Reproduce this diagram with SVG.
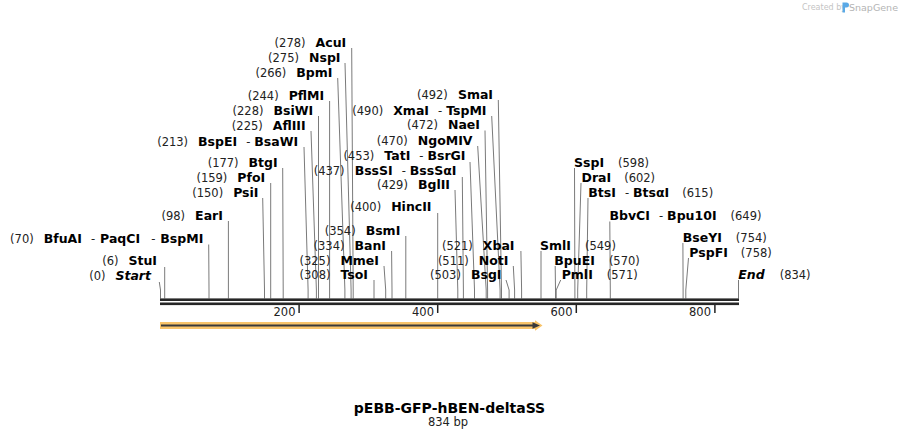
<svg xmlns="http://www.w3.org/2000/svg" width="899" height="438" viewBox="0 0 899 438">
<style>
text{font-family:"DejaVu Sans","Liberation Sans",sans-serif;}
.n{font-size:11.5px;fill:#222;}
.b{font-size:12.5px;font-weight:bold;fill:#000;}
.h{font-size:11.5px;fill:#222;}
.it{font-style:italic;}
.L{text-anchor:end;}
.cn path{fill:none;stroke:#7a7a7a;stroke-width:1;}
.tick{stroke:#222;stroke-width:1.5;}
.tl{font-size:11.5px;fill:#222;text-anchor:end;}
</style>
<rect width="899" height="438" fill="#fff"/>
<g id="watermark">
<text x="802" y="10" style="font-size:8px;fill:#c4c4c4">Created by</text>
<path d="M842.5 2.5h4a2.5 2.5 0 0 1 0 5h-1.5v5h-2.5z" fill="#5aa9e6"/>
<text x="849" y="11" style="font-size:9.5px;fill:#b4b4b4">SnapGene</text>
</g>
<g id="connectors" class="cn">
<path d="M351.7 48L353.2 290L353.2 298.5"/>
<path d="M345 63L351.1 290L351.1 298.5"/>
<path d="M337.7 78L344.9 290L344.9 298.5"/>
<path d="M329.6 101L329.6 298.5"/>
<path d="M318.5 116L318.5 298.5"/>
<path d="M311 131L316.4 290L316.4 298.5"/>
<path d="M304 147L308.1 290L308.1 298.5"/>
<path d="M282.7 168L283.2 290L283.2 298.5"/>
<path d="M270.7 183L270.7 298.5"/>
<path d="M262.7 198L264.5 290L264.5 298.5"/>
<path d="M228.4 221L228.4 298.5"/>
<path d="M208.7 244.5L209 290L209 298.5"/>
<path d="M164.7 267L164.7 298.5"/>
<path d="M159.3 282L160.5 290L160.5 298.5"/>
<path d="M374 280L374 298.5"/>
<path d="M384 266L385.7 290L385.7 298.5"/>
<path d="M391.6 251L392 290L392 298.5"/>
<path d="M405.8 236L405.8 298.5"/>
<path d="M437.7 213L437.7 298.5"/>
<path d="M455 190L457.8 290L457.8 298.5"/>
<path d="M462.3 177L463.4 290L463.4 298.5"/>
<path d="M470 162L474.5 290L474.5 298.5"/>
<path d="M477.7 146L486.2 290L486.2 298.5"/>
<path d="M485 130.5L487.6 290L487.6 298.5"/>
<path d="M491.7 116L500.1 290L500.1 298.5"/>
<path d="M498.3 100L501.5 290L501.5 298.5"/>
<path d="M506 280L509.1 290L509.1 298.5"/>
<path d="M513.3 266L514.6 290L514.6 298.5"/>
<path d="M520.9 251L521.6 290L521.6 298.5"/>
<path d="M541 251L541 298.5"/>
<path d="M555.2 266L555.5 290L555.5 298.5"/>
<path d="M560.7 280L556.2 290L556.2 298.5"/>
<path d="M574.5 168L574.9 290L574.9 298.5"/>
<path d="M581 183L577.7 290L577.7 298.5"/>
<path d="M588 198L586.7 290L586.7 298.5"/>
<path d="M609.8 221.5L610.3 290L610.3 298.5"/>
<path d="M682.9 243L683.1 290L683.1 298.5"/>
<path d="M688.5 258L685.8 290L685.8 298.5"/>
<path d="M738.5 280L738.5 298.5"/>
</g>
<g id="ruler">
<rect x="160" y="298.4" width="579" height="2.6" fill="#262626"/>
<rect x="160" y="302.5" width="579" height="2.6" fill="#262626"/>
<line class="tick" x1="299.1" y1="305" x2="299.1" y2="313"/>
<line class="tick" x1="437.7" y1="305" x2="437.7" y2="313"/>
<line class="tick" x1="576.3" y1="305" x2="576.3" y2="313"/>
<line class="tick" x1="714.9" y1="305" x2="714.9" y2="313"/>
<text class="tl" x="295.5" y="316">200</text>
<text class="tl" x="434" y="316">400</text>
<text class="tl" x="572.5" y="316">600</text>
<text class="tl" x="711" y="316">800</text>
</g>
<g id="feature">
<polygon points="160,322 535,322 535,320.3 542.5,325.5 535,330.7 535,329 160,329" fill="#f9c46a"/>
<line x1="161" y1="325.5" x2="534" y2="325.5" stroke="#3a3a3a" stroke-width="1.8"/>
<polygon points="532.5,322.3 540,325.5 532.5,328.7" fill="#3a3a3a"/>
</g>
<g id="site-AcuI"><text class="L" x="346.2" y="46.5"><tspan class="n">(278)</tspan><tspan class="b" dx="10">AcuI</tspan></text></g>
<g id="site-NspI"><text class="L" x="340.5" y="61.5"><tspan class="n">(275)</tspan><tspan class="b" dx="10">NspI</tspan></text></g>
<g id="site-BpmI"><text class="L" x="332.5" y="76.5"><tspan class="n">(266)</tspan><tspan class="b" dx="10">BpmI</tspan></text></g>
<g id="site-PflMI"><text class="L" x="324.2" y="99.5"><tspan class="n">(244)</tspan><tspan class="b" dx="10">PflMI</tspan></text></g>
<g id="site-BsiWI"><text class="L" x="313.2" y="114.5"><tspan class="n">(228)</tspan><tspan class="b" dx="10">BsiWI</tspan></text></g>
<g id="site-AflIII"><text class="L" x="305.7" y="129.5"><tspan class="n">(225)</tspan><tspan class="b" dx="10">AflIII</tspan></text></g>
<g id="site-BspEI"><text class="L" x="298.2" y="145.5"><tspan class="n">(213)</tspan><tspan class="b" dx="10">BspEI</tspan><tspan class="h" dx="9">-</tspan><tspan class="b" dx="4">BsaWI</tspan></text></g>
<g id="site-BtgI"><text class="L" x="277.7" y="166.5"><tspan class="n">(177)</tspan><tspan class="b" dx="10">BtgI</tspan></text></g>
<g id="site-PfoI"><text class="L" x="265.2" y="181.5"><tspan class="n">(159)</tspan><tspan class="b" dx="10">PfoI</tspan></text></g>
<g id="site-PsiI"><text class="L" x="258.5" y="196.5"><tspan class="n">(150)</tspan><tspan class="b" dx="10">PsiI</tspan></text></g>
<g id="site-EarI"><text class="L" x="222.9" y="219.5"><tspan class="n">(98)</tspan><tspan class="b" dx="10">EarI</tspan></text></g>
<g id="site-BfuAI"><text class="L" x="203.3" y="243"><tspan class="n">(70)</tspan><tspan class="b" dx="10">BfuAI</tspan><tspan class="h" dx="9">-</tspan><tspan class="b" dx="5">PaqCI</tspan><tspan class="h" dx="11">-</tspan><tspan class="b" dx="5">BspMI</tspan></text></g>
<g id="site-StuI"><text class="L" x="157" y="265"><tspan class="n">(6)</tspan><tspan class="b" dx="10">StuI</tspan></text></g>
<g id="site-Start"><text class="L" x="151" y="280"><tspan class="n">(0)</tspan><tspan class="b it" dx="10">Start</tspan></text></g>
<g id="site-TsoI"><text class="L" x="368" y="278.5"><tspan class="n">(308)</tspan><tspan class="b" dx="10">TsoI</tspan></text></g>
<g id="site-MmeI"><text class="L" x="379" y="264.5"><tspan class="n">(325)</tspan><tspan class="b" dx="10">MmeI</tspan></text></g>
<g id="site-BanI"><text class="L" x="386" y="249.5"><tspan class="n">(334)</tspan><tspan class="b" dx="10">BanI</tspan></text></g>
<g id="site-BsmI"><text class="L" x="400.3" y="234.5"><tspan class="n">(354)</tspan><tspan class="b" dx="10">BsmI</tspan></text></g>
<g id="site-HincII"><text class="L" x="431.5" y="211"><tspan class="n">(400)</tspan><tspan class="b" dx="10">HincII</tspan></text></g>
<g id="site-BglII"><text class="L" x="450" y="189"><tspan class="n">(429)</tspan><tspan class="b" dx="10">BglII</tspan></text></g>
<g id="site-BssSI"><text class="L" x="456.5" y="175"><tspan class="n">(437)</tspan><tspan class="b" dx="10">BssSI</tspan><tspan class="h" dx="9">-</tspan><tspan class="b" dx="4">BssSαI</tspan></text></g>
<g id="site-TatI"><text class="L" x="465.5" y="160"><tspan class="n">(453)</tspan><tspan class="b" dx="10">TatI</tspan><tspan class="h" dx="9">-</tspan><tspan class="b" dx="4">BsrGI</tspan></text></g>
<g id="site-NgoMIV"><text class="L" x="472.5" y="144.5"><tspan class="n">(470)</tspan><tspan class="b" dx="10">NgoMIV</tspan></text></g>
<g id="site-NaeI"><text class="L" x="480" y="129"><tspan class="n">(472)</tspan><tspan class="b" dx="10">NaeI</tspan></text></g>
<g id="site-XmaI"><text class="L" x="486.5" y="114.5"><tspan class="n">(490)</tspan><tspan class="b" dx="10">XmaI</tspan><tspan class="h" dx="9">-</tspan><tspan class="b" dx="4">TspMI</tspan></text></g>
<g id="site-SmaI"><text class="L" x="493" y="99"><tspan class="n">(492)</tspan><tspan class="b" dx="10">SmaI</tspan></text></g>
<g id="site-BsgI"><text class="L" x="501.5" y="278.5"><tspan class="n">(503)</tspan><tspan class="b" dx="10">BsgI</tspan></text></g>
<g id="site-NotI"><text class="L" x="508.5" y="264.5"><tspan class="n">(511)</tspan><tspan class="b" dx="10">NotI</tspan></text></g>
<g id="site-XbaI"><text class="L" x="514.5" y="249.5"><tspan class="n">(521)</tspan><tspan class="b" dx="10">XbaI</tspan></text></g>
<g id="site-SmlI"><text x="540" y="249.5"><tspan class="b">SmlI</tspan><tspan class="n" dx="14">(549)</tspan></text></g>
<g id="site-BpuEI"><text x="554.3" y="264.5"><tspan class="b">BpuEI</tspan><tspan class="n" dx="14">(570)</tspan></text></g>
<g id="site-PmlI"><text x="561.7" y="278.5"><tspan class="b">PmlI</tspan><tspan class="n" dx="14">(571)</tspan></text></g>
<g id="site-SspI"><text x="574" y="166.5"><tspan class="b">SspI</tspan><tspan class="n" dx="14">(598)</tspan></text></g>
<g id="site-DraI"><text x="581.5" y="181.5"><tspan class="b">DraI</tspan><tspan class="n" dx="13">(602)</tspan></text></g>
<g id="site-BtsI"><text x="588.3" y="196.5"><tspan class="b">BtsI</tspan><tspan class="h" dx="9">-</tspan><tspan class="b" dx="4">BtsαI</tspan><tspan class="n" dx="13">(615)</tspan></text></g>
<g id="site-BbvCI"><text x="609.5" y="219.5"><tspan class="b">BbvCI</tspan><tspan class="h" dx="9">-</tspan><tspan class="b" dx="4">Bpu10I</tspan><tspan class="n" dx="14">(649)</tspan></text></g>
<g id="site-BseYI"><text x="682.7" y="241.5"><tspan class="b">BseYI</tspan><tspan class="n" dx="14">(754)</tspan></text></g>
<g id="site-PspFI"><text x="689.3" y="256.5"><tspan class="b">PspFI</tspan><tspan class="n" dx="13">(758)</tspan></text></g>
<g id="site-End"><text x="738.3" y="278.5"><tspan class="b it">End</tspan><tspan class="n" dx="15">(834)</tspan></text></g>
<g id="title">
<text x="449.5" y="413" text-anchor="middle" style="font-size:14px;font-weight:bold;fill:#000">pEBB-GFP-hBEN-deltaSS</text>
<text x="448" y="425.5" text-anchor="middle" style="font-size:11.5px;fill:#222">834 bp</text>
</g>
</svg>
